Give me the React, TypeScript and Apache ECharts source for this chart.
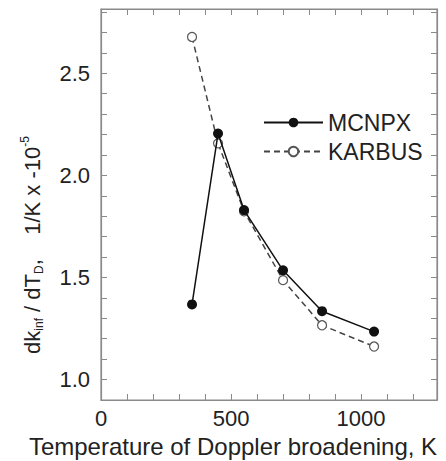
import React, { useEffect, useRef } from "react";
import * as echarts from "echarts";

const temperatures = [350, 450, 550, 700, 850, 1050];
const mcnpx = [1.368, 2.205, 1.83, 1.535, 1.335, 1.235];
const karbus = [2.678, 2.157, 1.824, 1.487, 1.266, 1.162];
const xLabels = ["0", "500", "1000"];
const yLabels = ["1.0", "1.5", "2.0", "2.5"];
const xTitle = "Temperature of Doppler broadening, K";

export default function App() {
  const ref = useRef<HTMLDivElement>(null);
  useEffect(() => {
    const chart = echarts.init(ref.current!, undefined, { renderer: "svg" });
    const font = "Liberation Sans, Arial, sans-serif";
    const axisColor = "#8a8a8a";
    const textColor = "#222";
    const isMult = (v: number, m: number) => Math.abs(v / m - Math.round(v / m)) < 1e-6;
    const xAxisBase = {
      type: "value" as const,
      min: 0,
      max: 1292,
      interval: 100,
      axisLine: { show: true, onZero: false, lineStyle: { color: axisColor, width: 1.2 } },
      axisTick: { show: true, inside: true, length: 6, lineStyle: { color: axisColor } },
      splitLine: { show: false },
    };
    const yAxisBase = {
      type: "value" as const,
      min: 0.9,
      max: 2.815,
      interval: 0.1,
      axisLine: { show: true, onZero: false, lineStyle: { color: axisColor, width: 1.2 } },
      axisTick: { show: true, inside: true, length: 6, lineStyle: { color: axisColor } },
      splitLine: { show: false },
    };
    chart.setOption({
      animation: false,
      grid: {
        left: 101,
        right: 9,
        top: 9,
        bottom: 61,
        containLabel: false,
        outerBoundsMode: "none",
        show: true,
        borderColor: axisColor,
        borderWidth: 1.2,
      },
      xAxis: [
        {
          ...xAxisBase,
          position: "bottom",
          axisLabel: {
            fontFamily: font,
            fontSize: 22,
            color: textColor,
            margin: 7,
            formatter: (v: number) => {
              if (!isMult(v, 500)) return "";
              const s = String(Math.round(v));
              return xLabels.includes(s) ? s : "";
            },
          },
        },
        { ...xAxisBase, position: "top", axisLabel: { show: false } },
      ],
      yAxis: [
        {
          ...yAxisBase,
          position: "left",
          axisLabel: {
            fontFamily: font,
            fontSize: 22,
            color: textColor,
            margin: 11,
            formatter: (v: number) => {
              if (!isMult(v, 0.5)) return "";
              const s = v.toFixed(1);
              return yLabels.includes(s) ? s : "";
            },
          },
        },
        { ...yAxisBase, position: "right", axisLabel: { show: false } },
      ],
      legend: {
        orient: "vertical",
        left: 263,
        top: 111,
        padding: 0,
        itemWidth: 59,
        itemHeight: 12,
        itemGap: 6,
        textStyle: { fontFamily: font, fontSize: 23, color: textColor },
        data: ["MCNPX", "KARBUS"],
      },
      graphic: [
        {
          type: "text",
          x: 32,
          y: 245,
          rotation: Math.PI / 2,
          style: {
            text: "dk{sub|inf} / dT{sub|D},    1/K x -10{sup|-5}",
            fontFamily: font,
            fontSize: 22,
            fill: textColor,
            align: "center",
            verticalAlign: "middle",
            rich: {
              sub: { fontFamily: font, fontSize: 12, fill: textColor, padding: [14, 0, 0, 0] },
              sup: { fontFamily: font, fontSize: 12, fill: textColor, padding: [0, 0, 14, 0] },
            },
          },
        },
        {
          type: "text",
          x: 233,
          y: 446,
          style: {
            text: xTitle,
            fontFamily: font,
            fontSize: 24,
            fill: textColor,
            align: "center",
            verticalAlign: "middle",
          },
        },
      ],
      series: [
        {
          name: "MCNPX",
          type: "line",
          data: temperatures.map((t, i) => [t, mcnpx[i]]),
          symbol: "circle",
          symbolSize: 10,
          itemStyle: { color: "#111" },
          lineStyle: { color: "#111", width: 1.5 },
          z: 3,
        },
        {
          name: "KARBUS",
          type: "line",
          data: temperatures.map((t, i) => [t, karbus[i]]),
          symbol: "circle",
          symbolSize: 9,
          itemStyle: { color: "#fff", borderColor: "#555", borderWidth: 1.2 },
          lineStyle: { color: "#444", width: 1.5, type: [6, 4] },
          z: 2,
        },
      ],
    });
    return () => chart.dispose();
  }, []);
  return <div ref={ref} style={{ width: 446, height: 461, position: "absolute", left: 0, top: 0 }} />;
}
